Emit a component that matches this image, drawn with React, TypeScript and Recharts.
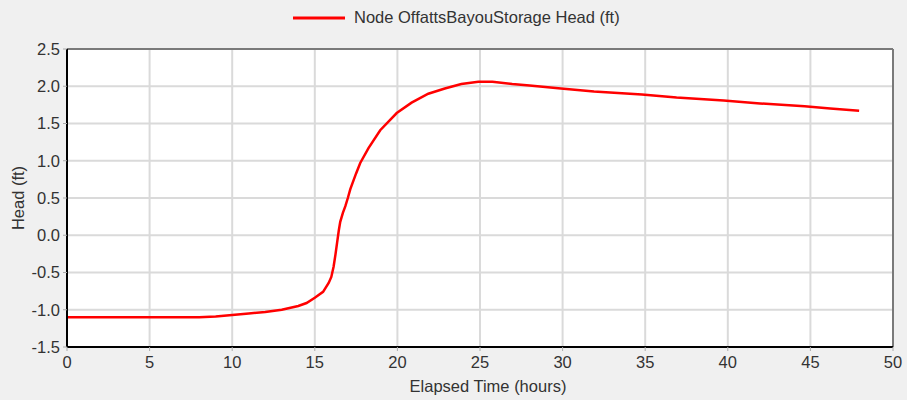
import * as React from "react"
import { LineChart, Line, CartesianGrid, XAxis, YAxis, ReferenceLine } from "recharts"

const hours = [
  0, 2, 4, 6, 8, 9, 10, 11, 12, 13, 14, 14.5, 15, 15.5, 15.84, 16.0, 16.14, 16.25, 16.35, 16.45, 16.54,
  16.7, 16.85, 17.0, 17.15, 17.5, 17.75, 18.25, 18.96, 19.96, 20.86, 21.87, 22.87, 23.87, 24.9, 25.75,
  26.95, 28, 29.9, 31.9, 34.8, 36.9, 39.75, 41.95, 44.65, 46.2, 47.95,
]
const heads = [
  -1.1, -1.1, -1.1, -1.1, -1.1, -1.09, -1.07, -1.05, -1.03, -1.0, -0.95, -0.91, -0.84, -0.76, -0.64,
  -0.56, -0.42, -0.26, -0.1, 0.06, 0.18, 0.3, 0.39, 0.5, 0.62, 0.83, 0.97, 1.17, 1.41, 1.64, 1.78, 1.9,
  1.97, 2.03, 2.06, 2.06, 2.03, 2.01, 1.97, 1.93, 1.89, 1.85, 1.81, 1.77, 1.73, 1.7, 1.67,
]
const xTicks = [0, 5, 10, 15, 20, 25, 30, 35, 40, 45, 50]
const yTicks = [-1.5, -1.0, -0.5, 0.0, 0.5, 1.0, 1.5, 2.0, 2.5]
const seriesName = "Node OffattsBayouStorage Head (ft)"

const data = hours.map((t, i) => ({ t, head: heads[i] }))

const font = "'Liberation Sans', Arial, sans-serif"
const textStyle = { fill: "#333", fontSize: 16.5, fontFamily: font }

// legend sits above the plot, outside the chart so it doesn't push the plot down
function LegendBox() {
  return (
    <div style={{ position: "absolute", top: 8, left: 293, display: "flex", alignItems: "center", fontFamily: font, fontSize: 16.5, color: "#333" }}>
      <svg width={52} height={6} style={{ marginRight: 9 }}>
        <line x1={0} y1={3} x2={52} y2={3} stroke="#ff0000" strokeWidth={3} />
      </svg>
      <span>{seriesName}</span>
    </div>
  )
}

export default function App() {
  return (
    <div style={{ position: "absolute", left: 0, top: 0, width: 907, height: 400, background: "#f0f0f0", fontFamily: font }}>
      <LegendBox />
      <LineChart width={907} height={400} data={data} margin={{ top: 49, right: 14, bottom: 0, left: 0 }}>
        <CartesianGrid stroke="#dadada" strokeWidth={2} fill="#ffffff" />
        <XAxis
          dataKey="t"
          type="number"
          domain={[0, 50]}
          ticks={xTicks}
          height={53}
          tickSize={4}
          tickMargin={5}
          tickLine={{ stroke: "#aaa" }}
          axisLine={{ stroke: "#000", strokeWidth: 2 }}
          tick={textStyle}
          label={{ value: "Elapsed Time (hours)", position: "insideBottom", offset: 8, dx: 8, style: textStyle }}
        />
        <YAxis
          type="number"
          domain={[-1.5, 2.5]}
          ticks={yTicks}
          width={67}
          tickSize={4}
          tickMargin={3}
          tickLine={{ stroke: "#aaa" }}
          axisLine={{ stroke: "#000", strokeWidth: 2 }}
          tickFormatter={(v: number) => v.toFixed(1)}
          tick={textStyle}
          label={{ value: "Head (ft)", angle: -90, position: "insideLeft", offset: 18, style: { ...textStyle, textAnchor: "middle" } }}
        />
        <ReferenceLine y={2.5} stroke="#7a7a7a" strokeWidth={2} />
        <ReferenceLine x={50} stroke="#7a7a7a" strokeWidth={2} />
        <Line
          type="linear"
          dataKey="head"
          name={seriesName}
          stroke="#ff0000"
          strokeWidth={2.5}
          dot={false}
          isAnimationActive={false}
        />
      </LineChart>
    </div>
  )
}
